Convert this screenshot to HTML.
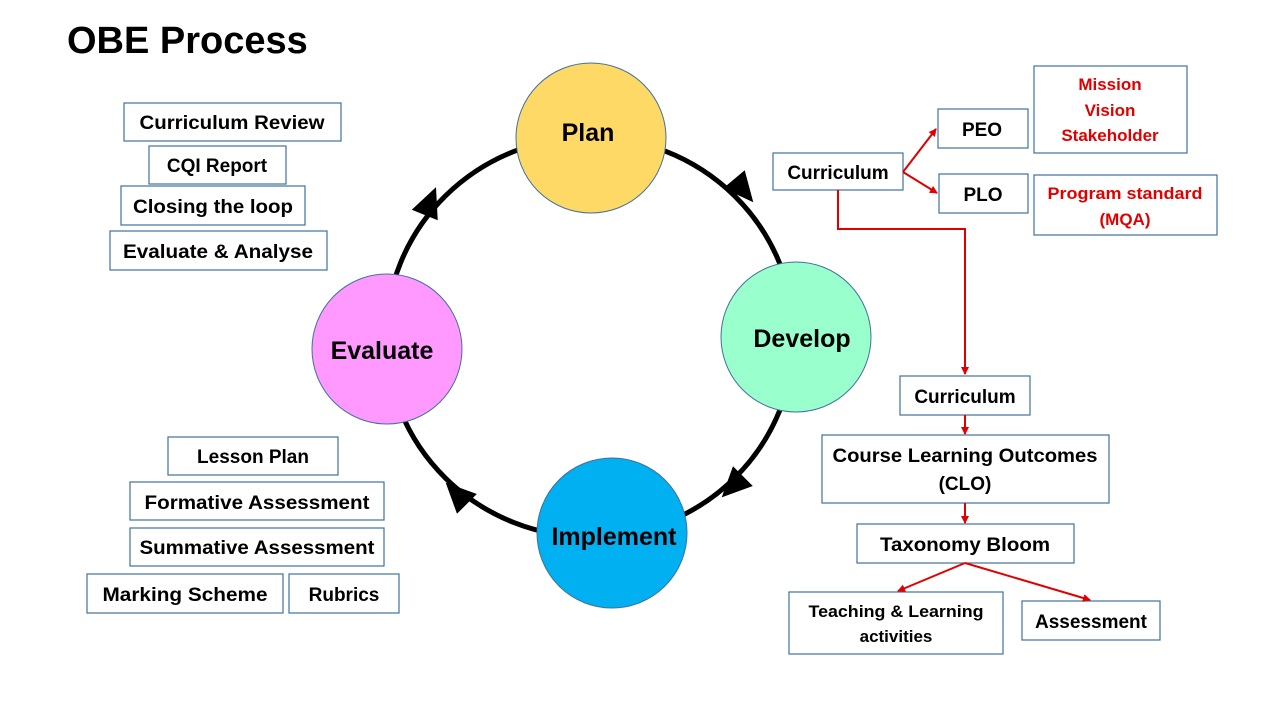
<!DOCTYPE html>
<html><head><meta charset="utf-8"><style>
html,body{margin:0;padding:0;background:#fff;}
svg{display:block;}
text{font-family:"Liberation Sans",sans-serif;font-weight:bold;}
</style></head><body>
<svg width="1280" height="720" viewBox="0 0 1280 720" xmlns="http://www.w3.org/2000/svg">
<defs>
<marker id="ra" markerWidth="8" markerHeight="8" refX="7" refY="4" orient="auto" markerUnits="userSpaceOnUse"><path d="M0,0 L8,4 L0,8 z" fill="#e00000"/></marker>
</defs>
<text x="67" y="53" font-size="38" fill="#000">OBE Process</text>
<ellipse cx="590" cy="337" rx="204" ry="200" fill="none" stroke="#000" stroke-width="5"/>
<polygon points="0,-16 14,14 -14,14" fill="#000" transform="translate(743,190) rotate(140)"/>
<polygon points="0,-16 14,14 -14,14" fill="#000" transform="translate(733,486) rotate(225)"/>
<polygon points="0,-16 14,14 -14,14" fill="#000" transform="translate(457,494) rotate(315)"/>
<polygon points="0,-16 14,14 -14,14" fill="#000" transform="translate(430,202) rotate(22)"/>
<circle cx="591" cy="138" r="75" fill="#ffd966" stroke="#41719c" stroke-width="1"/>
<circle cx="796" cy="337" r="75" fill="#99ffcc" stroke="#41719c" stroke-width="1"/>
<circle cx="612" cy="533" r="75" fill="#00b0f0" stroke="#41719c" stroke-width="1"/>
<circle cx="387" cy="349" r="75" fill="#ff99ff" stroke="#41719c" stroke-width="1"/>
<g font-size="25" text-anchor="middle" fill="#000">
<text x="588" y="141">Plan</text>
<text x="802" y="347">Develop</text>
<text x="614" y="545">Implement</text>
<text x="382" y="359">Evaluate</text>
</g>
<g fill="#fff" stroke="#41719c" stroke-width="1.2">
<rect x="124" y="103" width="217" height="38"/>
<rect x="149" y="146" width="137" height="38"/>
<rect x="121" y="186" width="184" height="39"/>
<rect x="110" y="231" width="217" height="39"/>
<rect x="168" y="437" width="170" height="38"/>
<rect x="130" y="482" width="254" height="38"/>
<rect x="130" y="528" width="254" height="38"/>
<rect x="87" y="574" width="196" height="39"/>
<rect x="289" y="574" width="110" height="39"/>
<rect x="773" y="153" width="130" height="37"/>
<rect x="938" y="109" width="90" height="39"/>
<rect x="939" y="174" width="89" height="39"/>
<rect x="1034" y="66" width="153" height="87"/>
<rect x="1034" y="175" width="183" height="60"/>
<rect x="900" y="376" width="130" height="39"/>
<rect x="822" y="435" width="287" height="68"/>
<rect x="857" y="524" width="217" height="39"/>
<rect x="789" y="592" width="214" height="62"/>
<rect x="1022" y="601" width="138" height="39"/>
</g>
<g font-size="19" text-anchor="middle" fill="#000">
<text x="232" y="129" textLength="185" lengthAdjust="spacingAndGlyphs">Curriculum Review</text>
<text x="217" y="172">CQI Report</text>
<text x="213" y="213" textLength="160" lengthAdjust="spacingAndGlyphs">Closing the loop</text>
<text x="218" y="258" textLength="190" lengthAdjust="spacingAndGlyphs">Evaluate &amp; Analyse</text>
<text x="253" y="463">Lesson Plan</text>
<text x="257" y="509" textLength="225" lengthAdjust="spacingAndGlyphs">Formative Assessment</text>
<text x="257" y="554" textLength="235" lengthAdjust="spacingAndGlyphs">Summative Assessment</text>
<text x="185" y="601" textLength="165" lengthAdjust="spacingAndGlyphs">Marking Scheme</text>
<text x="344" y="601">Rubrics</text>
<text x="838" y="179">Curriculum</text>
<text x="982" y="136">PEO</text>
<text x="983" y="201">PLO</text>
<text x="965" y="403">Curriculum</text>
<text x="965" y="462" textLength="265" lengthAdjust="spacingAndGlyphs">Course Learning Outcomes</text>
<text x="965" y="490">(CLO)</text>
<text x="965" y="551" textLength="170" lengthAdjust="spacingAndGlyphs">Taxonomy Bloom</text>
<text x="1091" y="628">Assessment</text>
</g>
<g font-size="17" text-anchor="middle" fill="#000">
<text x="896" y="617" textLength="175" lengthAdjust="spacingAndGlyphs">Teaching &amp; Learning</text>
<text x="896" y="642">activities</text>
</g>
<g font-size="17" text-anchor="middle" fill="#e00000">
<text x="1110" y="90">Mission</text>
<text x="1110" y="116">Vision</text>
<text x="1110" y="141">Stakeholder</text>
<text x="1125" y="199" textLength="155" lengthAdjust="spacingAndGlyphs">Program standard</text>
<text x="1125" y="225">(MQA)</text>
</g>
<g stroke="#e00000" stroke-width="2" fill="none">
<line x1="903" y1="172" x2="936" y2="129" marker-end="url(#ra)"/>
<line x1="903" y1="172" x2="937" y2="193" marker-end="url(#ra)"/>
<polyline points="838,190 838,229 965,229 965,374" marker-end="url(#ra)"/>
<line x1="965" y1="415" x2="965" y2="434" marker-end="url(#ra)"/>
<line x1="965" y1="503" x2="965" y2="523" marker-end="url(#ra)"/>
<line x1="965" y1="563" x2="898" y2="591" marker-end="url(#ra)"/>
<line x1="965" y1="563" x2="1090" y2="600" marker-end="url(#ra)"/>
</g>
</svg>
</body></html>
